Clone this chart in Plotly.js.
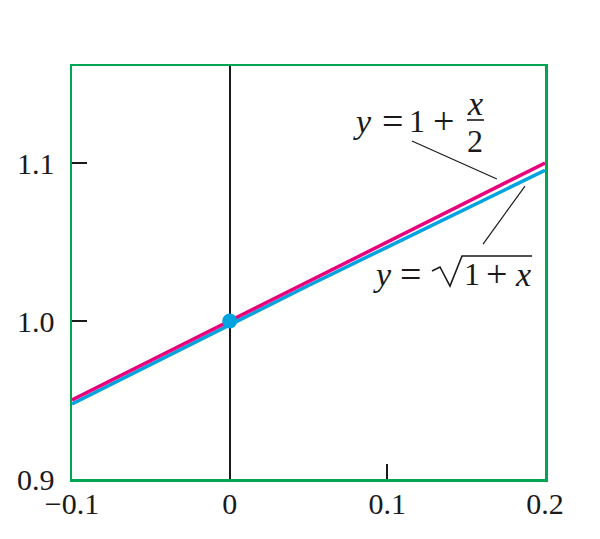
<!DOCTYPE html>
<html><head><meta charset="utf-8">
<script src="https://cdn.plot.ly/plotly-3.0.1.min.js"></script>
<style>html,body{margin:0;padding:0;background:#fff;}#chart{width:600px;height:539px;}</style>
</head><body><div id="chart"></div>
<script>
// Data
var xVals = [-0.1, -0.05, 0, 0.05, 0.1, 0.15, 0.2];
var yLinear = [0.95, 0.975, 1.0, 1.025, 1.05, 1.075, 1.1];          // y = 1 + x/2 (magenta)
var ySqrt = [0.9475, 0.9725, 0.9975, 1.0225, 1.0468, 1.0712, 1.0954]; // y = sqrt(1 + x) (blue, drawn just below)
var pointX = [0];
var pointY = [1.0];
var xTickVals = [-0.1, 0, 0.1, 0.2];
var xTickText = ['\u22120.1', '0', '0.1', '0.2'];
var yTickVals = [0.9, 1.0, 1.1];
var yTickText = ['0.9', '1.0', '1.1'];

var GREEN = '#00a651', PINK = '#e6007e', BLUE = '#00a3e0', INK = '#1a1a1a';
var FAM = 'Liberation Serif, Times New Roman, serif';
var FONT = {family: FAM, size: 30, color: INK};
var FVAR = {family: FAM, size: 34, color: INK};
var FNUM = {family: FAM, size: 32, color: INK};
var FSYM = {family: FAM, size: 38, color: INK};

var traces = [
  {x: xVals, y: ySqrt, mode: 'lines', line: {color: BLUE, width: 3.5}, hoverinfo: 'skip', showlegend: false},
  {x: xVals, y: yLinear, mode: 'lines', line: {color: PINK, width: 3.5}, hoverinfo: 'skip', showlegend: false},
  {x: pointX, y: pointY, mode: 'markers', marker: {color: BLUE, size: 15}, hoverinfo: 'skip', showlegend: false},
  {x: [null], y: [null], xaxis: 'x2', yaxis: 'y2', mode: 'lines', hoverinfo: 'skip', showlegend: false}
];

function ann(x, y, t, f) {
  return {xref: 'x', yref: 'y', x: x, y: y, xanchor: 'center', yanchor: 'middle', showarrow: false, text: t, font: f, borderpad: 0};
}

var layout = {
  width: 600, height: 539,
  margin: {l: 72, r: 55, t: 66, b: 60},
  paper_bgcolor: '#fff', plot_bgcolor: '#fff',
  font: FONT,
  showlegend: false,
  xaxis: {range: [-0.1, 0.2], tickvals: xTickVals, ticktext: xTickText, ticks: '',
          showline: true, mirror: true, linecolor: GREEN, linewidth: 2.5,
          zeroline: true, zerolinecolor: INK, zerolinewidth: 2, showgrid: false,
          tickfont: FONT, ticklabelstandoff: -4},
  yaxis: {range: [0.9, 1.1614], tickvals: yTickVals, ticktext: yTickText, ticks: '',
          showline: true, mirror: true, linecolor: GREEN, linewidth: 2.5,
          zeroline: false, showgrid: false, tickfont: FONT, ticklabelstandoff: 9},
  xaxis2: {range: [-0.1, 0.2], overlaying: 'x', anchor: 'y', side: 'bottom', tickvals: [0.1],
           ticks: 'inside', ticklen: 15, tickwidth: 2, tickcolor: INK, showticklabels: false,
           showline: false, zeroline: false, showgrid: false},
  yaxis2: {range: [0.9, 1.1614], overlaying: 'y', anchor: 'x', side: 'left', tickvals: [1.0, 1.1],
           ticks: 'inside', ticklen: 15, tickwidth: 2, tickcolor: INK, showticklabels: false,
           showline: false, zeroline: false, showgrid: false},
  shapes: [
    // leader lines
    {type: 'line', xref: 'x', yref: 'y', x0: 0.1156, y0: 1.1139, x1: 0.1695, y1: 1.0899, line: {color: INK, width: 1.2}},
    {type: 'line', xref: 'x', yref: 'y', x0: 0.1873, y0: 1.0854, x1: 0.1607, y1: 1.0487, line: {color: INK, width: 1.2}},
    // fraction bar
    {type: 'line', xref: 'x', yref: 'y', x0: 0.15053, y0: 1.12722, x1: 0.16131, y1: 1.12722, line: {color: INK, width: 1.6}},
    // radical sign with vinculum
    {type: 'path', xref: 'x', yref: 'y',
     path: 'M 0.12833 1.03165 L 0.13340 1.03418 L 0.13974 1.02215 L 0.14736 1.04114 L 0.19175 1.04114',
     line: {color: INK, width: 1.6}}
  ],
  annotations: [
    ann(0.08400, 1.12658, '<i>y</i>', FVAR),
    ann(0.10296, 1.12658, '=', FSYM),
    ann(0.11882, 1.12658, '1', FNUM),
    ann(0.13531, 1.12658, '+', FSYM),
    ann(0.15560, 1.13740, '<i>x</i>', FVAR),
    ann(0.15560, 1.11420, '2', FNUM),
    ann(0.09700, 1.02975, '<i>y</i>', FVAR),
    ann(0.11438, 1.02975, '=', FSYM),
    ann(0.15370, 1.02975, '1', FNUM),
    ann(0.16892, 1.02975, '+', FSYM),
    ann(0.18604, 1.02975, '<i>x</i>', FVAR)
  ]
};

Plotly.newPlot('chart', traces, layout, {staticPlot: true, displayModeBar: false});
</script>
</body></html>
